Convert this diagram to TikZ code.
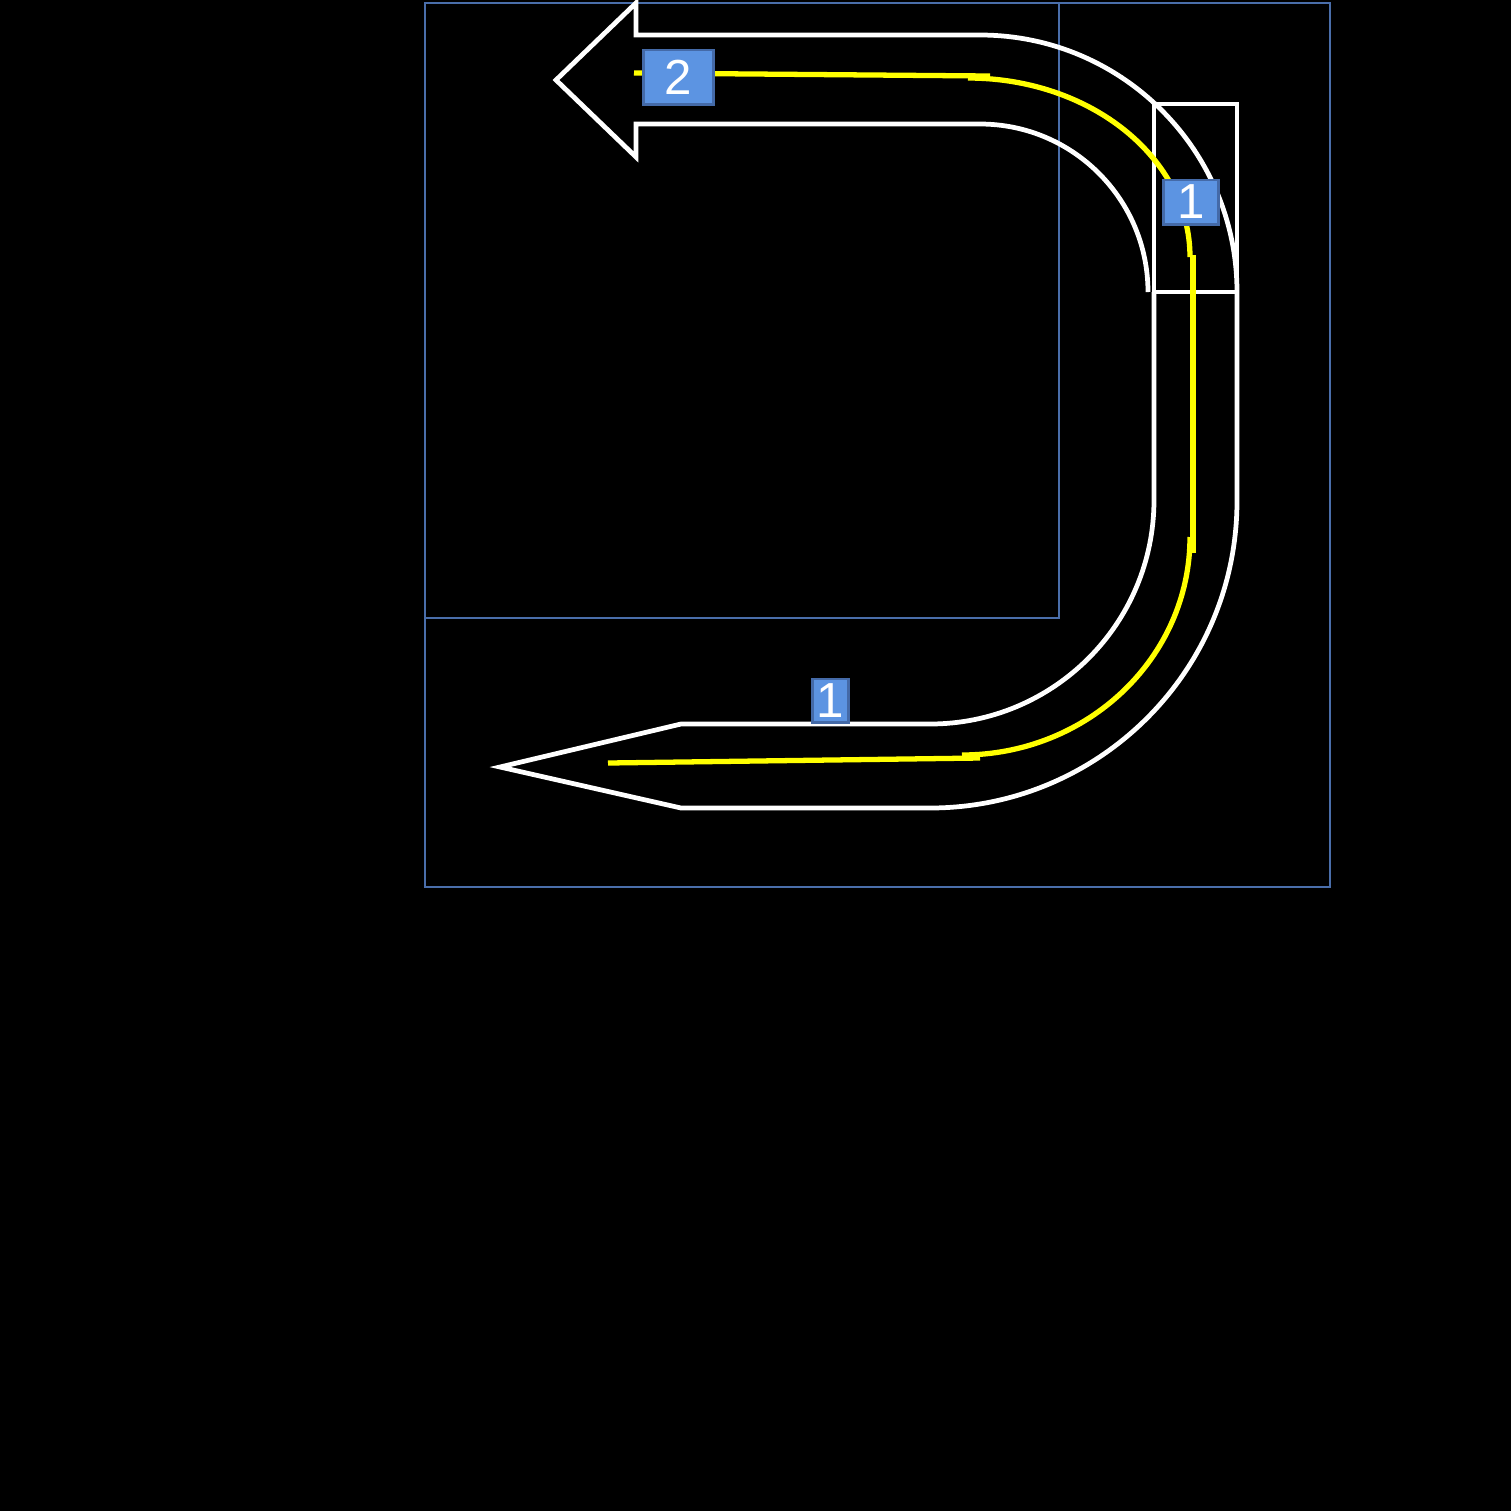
\documentclass[tikz,border=0pt]{standalone}
\usepackage{fontspec}
\setmainfont{Liberation Sans}
\definecolor{frameblue}{RGB}{74,110,170}
\definecolor{tagfill}{RGB}{92,148,226}
\definecolor{tagline}{RGB}{68,106,168}
\definecolor{pathyellow}{RGB}{255,255,0}
\tikzset{
  frame/.style={draw=frameblue, line width=0.65pt},
  outline/.style={draw=white, line width=1.35pt, line join=miter},
  track/.style={draw=pathyellow, line width=1.5pt},
  tag/.style={draw=tagline, fill=tagfill, line width=0.85pt, text=white, inner sep=0pt,
    font=\fontsize{14}{14}\selectfont}
}
\begin{document}
\begin{tikzpicture}[x=0.01cm,y=-0.01cm]
\fill[black] (0,0) rectangle (1511,1511);
\useasboundingbox (0,0) rectangle (1511,1511);
% frames
\draw[frame] (425,3) rectangle (1330,887);
\draw[frame] (425,3) rectangle (1059,618);
% upper arrow outline
\draw[outline] (1148,292) arc[start angle=0,end angle=-90,radius=168]
  -- (636,124) -- (636,157) -- (556,80) -- (636,3) -- (636,35) -- (980,35)
  arc[start angle=-90,end angle=0,radius=257];
% small rectangle
\draw[outline] (1154,104) rectangle (1237,292);
% lower arrow outline
\draw[outline] (1154,292) -- (1154,500) arc[start angle=0,end angle=90,radius=224]
  -- (681,724) -- (500,767) -- (681,808) -- (930,808)
  arc[start angle=90,end angle=0,radius=307] -- (1237,292);
% yellow track
\draw[track] (634,73) -- (990,76);
\draw[track] (968,78) arc[start angle=-90,end angle=0,x radius=222,y radius=179];
\draw[track] (1193,255) -- (1193,553);
\draw[track] (1190,537) arc[start angle=0,end angle=90,x radius=228,y radius=218];
\draw[track] (980,758) -- (608,763);
% tags
\node[tag, minimum width=0.69cm, minimum height=0.54cm] (t2) at (678.5,77) {2};
\node[tag, minimum width=0.54cm, minimum height=0.44cm] (t1a) at (1191,202) {1};
\node[tag, minimum width=0.35cm, minimum height=0.43cm] (t1b) at (830.5,700.5) {1};
\end{tikzpicture}
\end{document}
